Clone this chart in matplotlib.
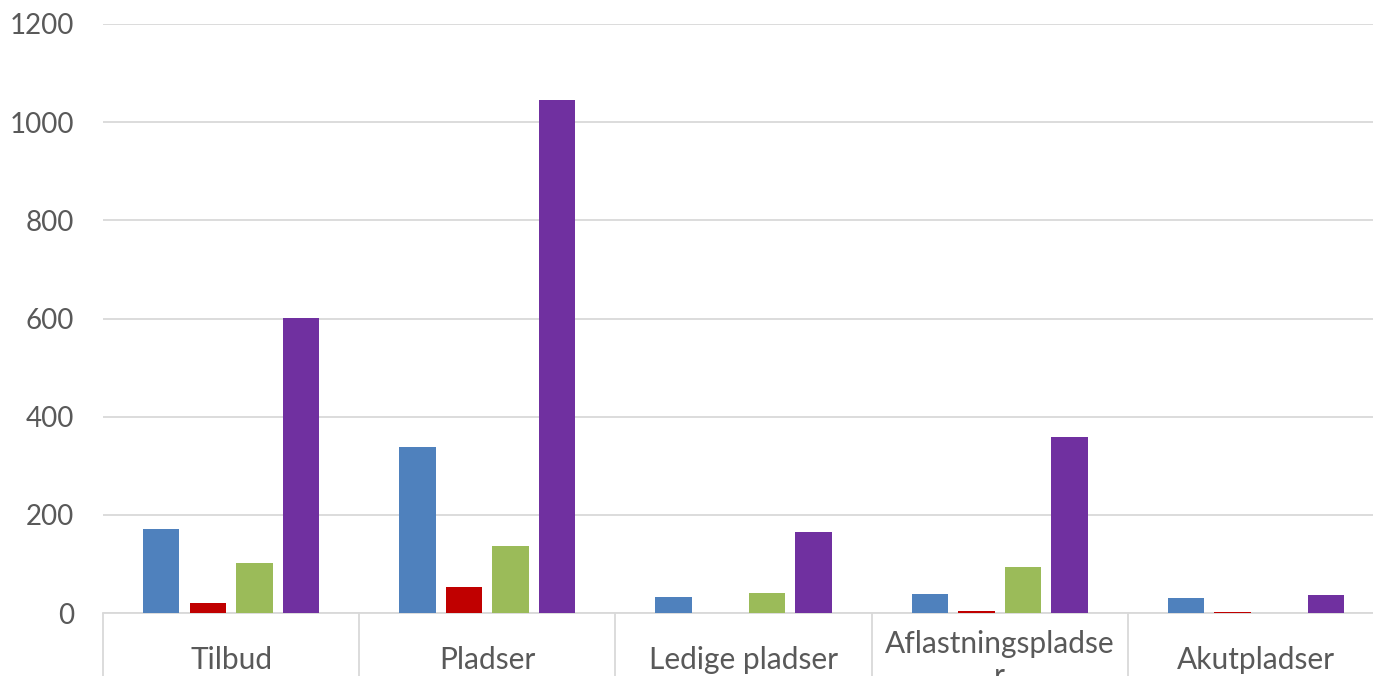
import numpy as np
import matplotlib.pyplot as plt
import matplotlib.transforms as mtransforms

plt.rcParams['font.family'] = ['Lato', 'DejaVu Sans']

categories = ["Tilbud", "Pladser", "Ledige pladser", "Aflastningspladse\nr", "Akutpladser"]
serie_1 = [171, 338, 33, 39, 31]
serie_2 = [20, 53, 0, 4, 2]
serie_3 = [102, 137, 41, 94, 0]
serie_4 = [601, 1045, 165, 359, 37]

series = [serie_1, serie_2, serie_3, serie_4]
colors = ["#4f81bd", "#c00000", "#9bbb59", "#7030a0"]

W, H = 1373, 676
fig = plt.figure(figsize=(W / 100, H / 100), dpi=100)
ax = fig.add_axes([103 / W, (H - 613) / H, 1281 / W, (613 - 24) / H])

x = np.arange(len(categories))
width = 0.142
pitch = 0.182
for i, (vals, col) in enumerate(zip(series, colors)):
    ax.bar(x + (i - 1.5) * pitch, vals, width=width, color=col, zorder=3)

ax.set_xlim(-0.5, len(categories) - 0.5)
ax.set_ylim(0, 1200)
ax.set_yticks(np.arange(0, 1201, 200))
ax.tick_params(axis='y', length=0, pad=21, labelsize=20, labelcolor="#595959")
ax.grid(axis='y', color="#d9d9d9", linewidth=1.3, zorder=0)

# category dividers as long major ticks, no labels
ax.set_xticks(np.arange(-0.5, len(categories), 1.0))
ax.set_xticklabels([])
ax.tick_params(axis='x', length=50, width=1.3, color="#d9d9d9", direction='out')

for s in ["top", "right", "left"]:
    ax.spines[s].set_visible(False)
ax.spines["bottom"].set_color("#d9d9d9")
ax.spines["bottom"].set_linewidth(1.3)

trans = mtransforms.blended_transform_factory(ax.transData, ax.transAxes)
for xi, lab in zip(x, categories):
    ax.text(xi, -0.08, lab, transform=trans, ha='center', va='center',
            fontsize=21.5, color="#595959", linespacing=1.2, clip_on=False)

fig.savefig("out.png", dpi=100)
